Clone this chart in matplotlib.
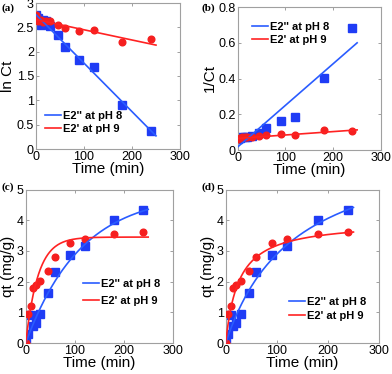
import numpy as np
import matplotlib
matplotlib.use("Agg")
import matplotlib.pyplot as plt

plt.rcParams['font.family'] = ['Liberation Sans', 'DejaVu Sans']

# ---------------- data ----------------
time = [0, 5, 10, 15, 20, 30, 45, 60, 90, 120, 180, 240]

lnct_pH8 = [2.76, 2.70, 2.55, 2.65, 2.62, 2.53, 2.35, 2.10, 1.83, 1.68, 0.90, 0.38]
lnct_pH9 = [2.76, 2.62, 2.65, 2.60, 2.62, 2.63, 2.55, 2.48, 2.42, 2.45, 2.20, 2.27]

invct_pH8 = [0.063, 0.065, 0.075, 0.070, 0.072, 0.080, 0.097, 0.122, 0.162, 0.187, 0.405, 0.680]
invct_pH9 = [0.063, 0.065, 0.070, 0.072, 0.070, 0.072, 0.078, 0.083, 0.087, 0.085, 0.110, 0.105]

qt_pH8 = [0.0, 0.30, 0.92, 0.55, 0.65, 0.93, 1.62, 2.32, 2.88, 3.15, 4.00, 4.32]
qt_pH9 = [0.0, 0.95, 1.22, 1.78, 1.90, 2.03, 2.33, 2.80, 3.25, 3.40, 3.55, 3.63]

# fitted model parameters
lin_a = {"pH8": (2.76, -0.00996), "pH9": (2.66, -0.0021)}      # intercept, slope
lin_b = {"pH8": (0.017, 0.00233), "pH9": (0.065, 0.00019)}
pfo_c = {"pH8": (4.88, 0.0089), "pH9": (3.45, 0.040)}          # qe, k1
pso_d = {"pH8": (6.8, 135.0), "pH9": (3.98, 25.3)}             # qe, half-time

labels = ["E2'' at pH 8", "E2' at pH 9"]
blue = "#1f3cf5"
red = "#f51f1f"
blue_line = "#2a5cff"
red_line = "#ff2222"

tfit = np.linspace(0, 250, 200)

W, H = 392, 374
fig = plt.figure(figsize=(W/100, H/100), dpi=100)

rects = {
    "a": [36/W, 1-149/H, 144/W, 146/H],
    "b": [237.7/W, 1-150/H, 143.3/W, 143/H],
    "c": [25.7/W, 1-343/H, 147/W, 153.5/H],
    "d": [225.7/W, 1-343/H, 153.3/W, 153.5/H],
}
panel_xy = {"a": (1, 3), "b": (201, 3), "c": (1, 182), "d": (201, 182)}
# legend: (handle start x px, top y px, labelspacing)
leg_pos = {"a": (45, 111, 0.25), "b": (252, 22, 0.25),
           "c": (83, 279, 0.6), "d": (289, 297, 0.35)}

LEG_FS = 8

def style(ax, ylim, yticks, ylabel):
    ax.set_xlim(0, 300)
    ax.set_ylim(*ylim)
    ax.set_xticks([0, 100, 200, 300])
    ax.set_yticks(yticks)
    ax.set_yticklabels([("%g" % v) for v in yticks])
    for s in ax.spines.values():
        s.set_color("#a0a0a0")
        s.set_linewidth(0.8)
    ax.tick_params(direction="in", length=2.5, width=0.6, color="#909090",
                   top=True, right=True, labelsize=9, pad=1.5)
    ax.set_xlabel("Time (min)", fontsize=11, labelpad=-0.5)
    ax.set_ylabel(ylabel, fontsize=11, labelpad=1)

def draw(ax, y8, y9, f8, f9):
    ax.plot(time, y8, "s", color=blue, ms=5.3, mec=blue, zorder=2)
    ax.plot(time, y9, "o", color=red, ms=4.8, mec=red, zorder=3)
    l1, = ax.plot(tfit, f8, "-", color=blue_line, lw=1.2, zorder=4)
    l2, = ax.plot(tfit, f9, "-", color=red_line, lw=1.2, zorder=4)
    return [l1, l2]

def legend(ax, h, key):
    x, y, ls = leg_pos[key]
    ax.legend(h, labels, loc="upper left", bbox_to_anchor=(x/W, 1-y/H),
              bbox_transform=fig.transFigure, frameon=False,
              handlelength=1.4, handletextpad=0.2, labelspacing=ls,
              borderpad=0, borderaxespad=0,
              prop={"weight": "bold", "size": LEG_FS})

# (a)
ax = fig.add_axes(rects["a"])
f8 = lin_a["pH8"][0] + lin_a["pH8"][1]*tfit
f9 = lin_a["pH9"][0] + lin_a["pH9"][1]*tfit
h = draw(ax, lnct_pH8, lnct_pH9, f8, f9)
style(ax, (0, 3), [0, 0.5, 1, 1.5, 2, 2.5, 3], "ln Ct")
legend(ax, h, "a")

# (b)
ax = fig.add_axes(rects["b"])
f8 = lin_b["pH8"][0] + lin_b["pH8"][1]*tfit
f9 = lin_b["pH9"][0] + lin_b["pH9"][1]*tfit
h = draw(ax, invct_pH8, invct_pH9, f8, f9)
style(ax, (0, 0.8), [0, 0.2, 0.4, 0.6, 0.8], "1/Ct")
legend(ax, h, "b")

# (c)
ax = fig.add_axes(rects["c"])
f8 = pfo_c["pH8"][0]*(1-np.exp(-pfo_c["pH8"][1]*tfit))
f9 = pfo_c["pH9"][0]*(1-np.exp(-pfo_c["pH9"][1]*tfit))
h = draw(ax, qt_pH8, qt_pH9, f8, f9)
style(ax, (0, 5), [0, 1, 2, 3, 4, 5], "qt (mg/g)")
legend(ax, h, "c")

# (d)
ax = fig.add_axes(rects["d"])
f8 = pso_d["pH8"][0]*tfit/(pso_d["pH8"][1]+tfit)
f9 = pso_d["pH9"][0]*tfit/(pso_d["pH9"][1]+tfit)
h = draw(ax, qt_pH8, qt_pH9, f8, f9)
style(ax, (0, 5), [0, 1, 2, 3, 4, 5], "qt (mg/g)")
legend(ax, h, "d")

for k, (px, py) in panel_xy.items():
    fig.text(px/W, 1-py/H, "(%s)" % k, ha="left", va="top",
             family=["Liberation Serif", "DejaVu Serif"], weight="bold", fontsize=8)

fig.savefig("out.png", dpi=100)
